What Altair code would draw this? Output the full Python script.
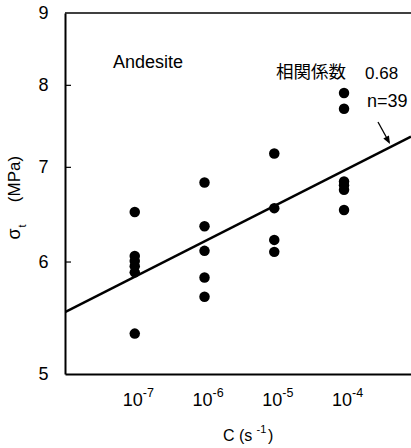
import altair as alt
import pandas as pd

# ---- data ----
rate_levels = [1e-7, 1e-6, 1e-5, 1e-4]
tick_base = ["10", "10", "10", "10"]
tick_exponent = ["-7", "-6", "-5", "-4"]
sigma_at_1e7 = [6.51, 6.06, 6.01, 5.96, 5.90, 5.34]
sigma_at_1e6 = [6.83, 6.36, 6.11, 5.85, 5.67]
sigma_at_1e5 = [7.16, 6.55, 6.22, 6.10]
sigma_at_1e4 = [7.90, 7.70, 6.84, 6.80, 6.75, 6.53]
fit_c = [1e-8, 10 ** -3.04]
fit_sigma = [5.53, 7.36]
y_ticks = [5, 6, 7, 8, 9]
inner_ticks = [6, 7, 8]

rows = []
for rate, vals in zip(rate_levels, [sigma_at_1e7, sigma_at_1e6, sigma_at_1e5, sigma_at_1e4]):
    for v in vals:
        rows.append({"C": rate, "sigma": v})
pts = pd.DataFrame(rows)
fit = pd.DataFrame({"C": fit_c, "sigma": fit_sigma})
ticks_df = pd.DataFrame({"sigma": inner_ticks})
xlab = pd.DataFrame({"C": rate_levels, "base": tick_base, "exp": tick_exponent})
one = pd.DataFrame({"a": [0]})

W, H = 346, 361
FONT = "Liberation Sans"

xscale = alt.Scale(type="log", domain=[1e-8, 10 ** -3.04], nice=False)
yscale = alt.Scale(type="log", domain=[5, 9], nice=False)

x_axis = alt.Axis(
    values=rate_levels, labels=False, title=None,
    ticks=False, tickSize=0, grid=False, domainColor="black", domainWidth=2,
)
y_axis = alt.Axis(
    values=y_ticks, format="d", title=None,
    ticks=False, tickSize=0, grid=False, domainColor="black", domainWidth=2,
    labelFont=FONT, labelFontSize=18, labelColor="black", labelPadding=17,
)

points = alt.Chart(pts).mark_point(
    filled=True, shape="circle", size=110, color="black", opacity=1
).encode(
    x=alt.X("C:Q", scale=xscale, axis=x_axis),
    y=alt.Y("sigma:Q", scale=yscale, axis=y_axis),
)

line = alt.Chart(fit).mark_line(color="black", strokeWidth=2.5, clip=True).encode(
    x=alt.X("C:Q", scale=xscale),
    y=alt.Y("sigma:Q", scale=yscale),
)

inner = alt.Chart(ticks_df).mark_rule(color="black", strokeWidth=1.2).encode(
    y=alt.Y("sigma:Q", scale=yscale),
    x=alt.value(0), x2=alt.value(6),
)

top = alt.Chart(one).mark_rule(color="black", strokeWidth=1.6).encode(
    x=alt.value(0), x2=alt.value(W), y=alt.value(0)
)

# x tick labels: "10" with raised exponent
xbase = alt.Chart(xlab).mark_text(
    font=FONT, fontSize=18, color="black", align="center", baseline="alphabetic", dx=-2
).encode(x=alt.X("C:Q", scale=xscale), y=alt.value(393), text="base:N")
xexp = alt.Chart(xlab).mark_text(
    font=FONT, fontSize=12.5, color="black", align="left", baseline="alphabetic", dx=8
).encode(x=alt.X("C:Q", scale=xscale), y=alt.value(384), text="exp:N")


def label(text, x, y, font=FONT, size=17, baseline="middle", align="left", angle=0):
    return alt.Chart(one).mark_text(
        text=text, font=font, fontSize=size, color="black", align=align,
        baseline=baseline, angle=angle
    ).encode(x=alt.value(x), y=alt.value(y))

# x axis title  C (s^-1)
xt1 = label("C  (s", 158, 428, size=16, baseline="alphabetic")
xt2 = label("-1", 191.5, 420, size=11, baseline="alphabetic")
xt3 = label(")", 203, 428, size=16, baseline="alphabetic")

# y axis title  sigma_t (MPa)
yt1 = label("σ", -45, 221, size=18, baseline="alphabetic", align="center", angle=270)
yt2 = label("t", -39, 213, size=11, baseline="alphabetic", align="center", angle=270)
yt3 = label("(MPa)", -45, 166, size=17, baseline="alphabetic", align="center", angle=270)

andesite = label("Andesite", 48, 55, size=18, baseline="alphabetic")
corr_jp = label("相関係数", 211, 60, font="Noto Sans CJK JP", size=17.5)
corr_val = label("0.68", 300, 61)
n_txt = label("n=39", 302, 89, size=18)

arrow = alt.Chart(one).mark_rule(color="black", strokeWidth=1.3).encode(
    x=alt.value(313), y=alt.value(109), x2=alt.value(324), y2=alt.value(129)
)
head = alt.Chart(one).mark_point(
    shape="M0,0 L-0.4,-1 L0.4,-1 Z", size=256, filled=True, color="black", opacity=1, angle=331
).encode(x=alt.value(325), y=alt.value(131))

chart = alt.layer(
    points, line, inner, top, xbase, xexp, xt1, xt2, xt3, yt1, yt2, yt3,
    andesite, corr_jp, corr_val, n_txt, arrow, head
).properties(
    width=W, height=H,
    autosize=alt.AutoSizeParams(type="none"),
    padding={"left": 65, "top": 13, "right": 0, "bottom": 74},
    background="white",
).configure_view(stroke=None)

chart.save("out.html", embed_options={"renderer": "svg", "actions": False})
